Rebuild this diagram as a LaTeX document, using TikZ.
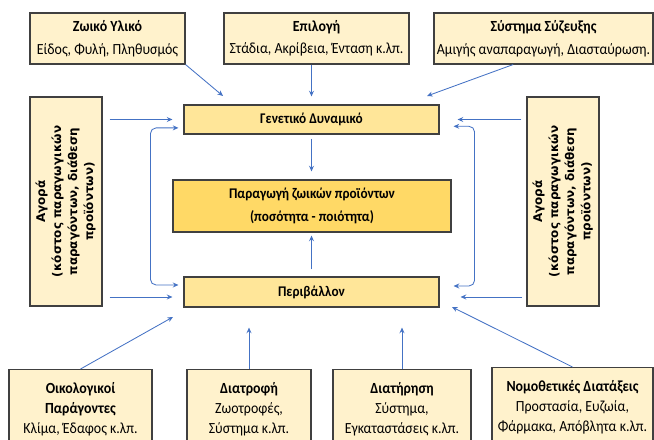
\documentclass[tikz,border=0pt]{standalone}
\usepackage{fontspec}
\setmainfont{Carlito}[FakeStretch=0.9]
\newfontfamily\agorafont{DejaVu Sans}
\usetikzlibrary{arrows.meta,calc}

\definecolor{kremA}{HTML}{FFF2CC}
\definecolor{kitrinoB}{HTML}{FFE699}
\definecolor{kitrinoC}{HTML}{FFD966}
\definecolor{perigr}{HTML}{404040}
\definecolor{mple}{HTML}{4472C4}

\newcommand{\agorakeim}{\rotatebox{90}{\agorafont\bfseries\fontsize{8.5}{11.4}\selectfont
  \begin{tabular}{@{}c@{}}Αγορά\\(κόστος παραγωγικών\\παραγόντων, διάθεση\\προϊόντων)\end{tabular}}}

\tikzset{
  >={Stealth[length=4pt,width=3.5pt]},
  kouti/.style={draw=perigr, line width=0.8pt, fill=kremA, align=center, inner sep=0pt},
  panw/.style={kouti, minimum height=1.275cm, font=\fontsize{11}{16}\selectfont},
  katw/.style={kouti, anchor=north, inner ysep=0.33cm, font=\fontsize{11}{14}\selectfont},
  agora/.style={kouti, minimum width=1.8cm, minimum height=5.225cm},
  kentro/.style={kouti, fill=kitrinoB, font=\bfseries\fontsize{10.5}{14}\selectfont},
  belos/.style={draw=mple, line width=0.6pt, ->}
}

\begin{document}
\begin{tikzpicture}
    \useasboundingbox (0,0) rectangle (16.35,10.975);
    \clip (0,0) rectangle (16.35,10.975);

    % Πάνω κουτιά
    \node[panw, minimum width=3.875cm] (zwiko) at (2.6875,10.0125) {\textbf{Ζωικό Υλικό}\\Είδος, Φυλή, Πληθυσμός};
    \node[panw, minimum width=4.625cm] (epilogi) at (7.9125,10.0125) {\textbf{Επιλογή}\\Στάδια, Ακρίβεια, Ένταση κ.λπ.};
    \node[panw, minimum width=5.475cm] (syzeuxi) at (13.5875,10.0125) {\textbf{Σύστημα Σύζευξης}\\Αμιγής αναπαραγωγή, Διασταύρωση.};

    % Κεντρικά κουτιά
    \node[kentro, minimum width=6.375cm, minimum height=0.725cm] (genetiko) at (7.7875,7.9875) {Γενετικό Δυναμικό};
    \node[kentro, fill=kitrinoC, minimum width=6.95cm, minimum height=1.3cm, font=\bfseries\fontsize{10.5}{16}\selectfont] (paragogi) at (7.8,5.825) {Παραγωγή ζωικών προϊόντων\\(ποσότητα - ποιότητα)};
    \node[kentro, minimum width=6.375cm, minimum height=0.75cm] (perivallon) at (7.7875,3.675) {Περιβάλλον};

    % Αγορά
    \node[agora] (agoraL) at (1.65,5.9375) {\agorakeim};
    \node[agora] (agoraR) at (14.075,5.9375) {\agorakeim};

    % Κάτω κουτιά
    \node[katw, minimum width=3.575cm] (oikologikoi) at (2.0125,1.75) {\textbf{Οικολογικοί}\\\textbf{Παράγοντες}\\Κλίμα, Έδαφος κ.λπ.};
    \node[katw, minimum width=3.1cm] (diatrofi) at (6.225,1.75) {\textbf{Διατροφή}\\Ζωοτροφές,\\Σύστημα κ.λπ.};
    \node[katw, minimum width=3.45cm] (diatirisi) at (10.05,1.75) {\textbf{Διατήρηση}\\Σύστημα,\\Εγκαταστάσεις κ.λπ.};
    \node[katw, minimum width=4.025cm] (nomothetikes) at (14.3125,1.8) {\textbf{Νομοθετικές Διατάξεις}\\Προστασία, Ευζωία,\\Φάρμακα, Απόβλητα κ.λπ.};

    % Ελεύθερα άκρα
    \coordinate (zw) at (5.575,8.575);
    \coordinate (sz) at (10.675,8.575);
    \coordinate (oik) at (4.325,3.05);
    \coordinate (nom) at (11.3,3.3);
    \coordinate (pw) at ($(perivallon.west)+(0,-0.125)$);
    \coordinate (pe) at ($(perivallon.east)+(0,-0.125)$);

    % Βέλη από πάνω
    \draw[belos] (zwiko.south east) -- (zw);
    \draw[belos, shorten >=0.2cm] (epilogi.south -| genetiko.north) -- (genetiko.north);
    \draw[belos] ([xshift=-0.76cm]syzeuxi.south) -- (sz);

    % Βέλη από την αγορά
    \draw[belos, shorten <=0.175cm, shorten >=0.275cm] (agoraL.east |- genetiko.west) -- (genetiko.west);
    \draw[belos, shorten <=0.175cm, shorten >=0.275cm] (agoraL.east |- pw) -- (pw);
    \draw[belos, shorten <=0.125cm, shorten >=0.45cm] (agoraR.west |- genetiko.east) -- (genetiko.east);
    \draw[belos, shorten <=0.1cm, shorten >=0.525cm] (agoraR.west |- pe) -- (pe);

    % Αγκύλες
    \draw[belos, <->, shorten <=0.125cm, shorten >=0.125cm, rounded corners=4pt] ([yshift=-0.21cm]genetiko.west) -- ++(-0.825,0) |- ([yshift=0.175cm]perivallon.west);
    \draw[belos, <->, shorten <=0.35cm, shorten >=0.35cm, rounded corners=4pt] ([yshift=-0.17cm]genetiko.east) -- ++(0.875,0) |- ([yshift=0.15cm]perivallon.east);

    % Προς την παραγωγή
    \draw[belos, shorten <=0.1cm, shorten >=0.2cm] (genetiko.south) -- (genetiko.south |- paragogi.north);
    \draw[belos, shorten <=0.175cm, shorten >=0.075cm] (perivallon.north) -- (perivallon.north |- paragogi.south);

    % Βέλη από κάτω
    \draw[belos] (oikologikoi.north) -- (oik);
    \draw[belos, shorten >=0.5cm] (diatrofi.north) -- (diatrofi.north |- perivallon.south);
    \draw[belos, shorten >=0.5cm] (diatirisi.north) -- (diatirisi.north |- perivallon.south);
    \draw[belos] (nomothetikes.north) -- (nom);
\end{tikzpicture}
\end{document}
